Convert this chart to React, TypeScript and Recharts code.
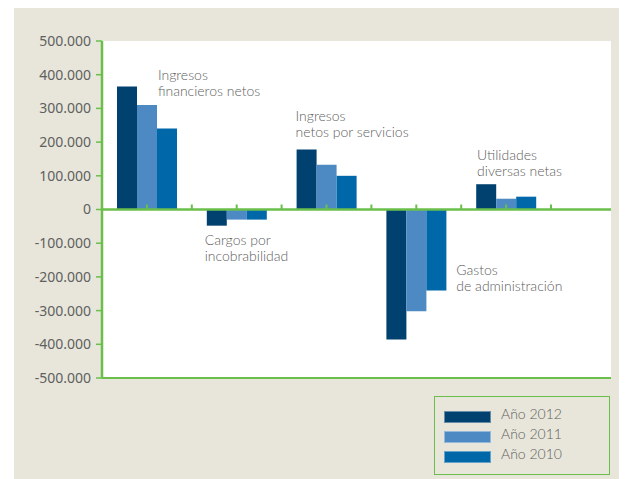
import { BarChart, Bar, XAxis, YAxis, CartesianGrid, ReferenceLine, Legend } from 'recharts'

const categories = [
  'Ingresos financieros netos',
  'Cargos por incobrabilidad',
  'Ingresos netos por servicios',
  'Gastos de administración',
  'Utilidades diversas netas',
]
const categoryLines = [
  ['Ingresos', 'financieros netos'],
  ['Cargos por', 'incobrabilidad'],
  ['Ingresos', 'netos por servicios'],
  ['Gastos', 'de administración'],
  ['Utilidades', 'diversas netas'],
]
const year2012 = [365000, -48000, 178000, -386000, 75000]
const year2011 = [310000, -30000, 133000, -302000, 32000]
const year2010 = [240000, -30000, 100000, -240000, 38000]
const yTicks = [-500000, -400000, -300000, -200000, -100000, 0, 100000, 200000, 300000, 400000, 500000]

const series = [
  { key: 'y2012', name: 'Año 2012', color: '#00416f' },
  { key: 'y2011', name: 'Año 2011', color: '#4d8ac4' },
  { key: 'y2010', name: 'Año 2010', color: '#0067a9' },
]

const data = categories.map((name, i) => ({
  name,
  y2012: year2012[i],
  y2011: year2011[i],
  y2010: year2010[i],
}))

// layout
const W = 613
const H = 471
const MARGIN = { top: 33, right: 16, left: 0, bottom: 100 }
const X_AXIS_H = 1
const PLOT_H = H - MARGIN.top - MARGIN.bottom - X_AXIS_H
const ZERO_Y = MARGIN.top + PLOT_H / 2
const BAND = 89.8
const GREEN = '#6abf4b'
const BG = '#e8e6da'
const TEXT = '#606060'
const LABEL_FONT = 'Lato, "Noto Sans", sans-serif'

// label offsets: [dx from band centre, baseline of first line relative to zero line]
const labelPos = [
  [11, -130],
  [-32, 35],
  [-31, -89],
  [40, 65],
  [-29, -50],
]

function fmt(v: number) {
  const s = Math.abs(v).toString().replace(/\B(?=(\d{3})+(?!\d))/g, '.')
  return v < 0 ? `-${s}` : s
}

// eslint-disable-next-line @typescript-eslint/no-explicit-any
function CategoryTick({ x, index }: any) {
  const [dx, dy] = labelPos[index]
  return (
    <g>
      <line x1={x} x2={x} y1={ZERO_Y - 5} y2={ZERO_Y} stroke={GREEN} strokeWidth={2} />
      <line x1={x + BAND / 2} x2={x + BAND / 2} y1={ZERO_Y - 5} y2={ZERO_Y} stroke={GREEN} strokeWidth={2} />
      <text x={x + dx} y={ZERO_Y + dy} fill={TEXT} fontFamily={LABEL_FONT} fontWeight={300} fontSize={14}>
        <tspan x={x + dx}>{categoryLines[index][0]}</tspan>
        <tspan x={x + dx} dy={16}>{categoryLines[index][1]}</tspan>
      </text>
    </g>
  )
}

function LegendBox() {
  return (
    <div style={{
      width: 174,
      height: 67,
      border: `1px solid ${GREEN}`,
      boxSizing: 'content-box',
      paddingTop: 10,
    }}>
      {series.map(s => (
        <div key={s.key} style={{ display: 'flex', alignItems: 'center', height: 20, marginLeft: 9 }}>
          <div style={{ width: 45, height: 10, background: s.color, border: '0.5px solid rgba(255,255,255,0.4)' }} />
          <span style={{ marginLeft: 10, fontFamily: LABEL_FONT, fontWeight: 300, fontSize: 14, color: TEXT, lineHeight: '16px', marginTop: -6 }}>
            {s.name}
          </span>
        </div>
      ))}
    </div>
  )
}

export default function App() {
  return (
    <div style={{ width: W, height: H, marginLeft: 6, background: BG, position: 'relative' }}>
      <BarChart width={W} height={H} data={data} margin={MARGIN} barSize={20} barGap={0}>
        <CartesianGrid fill="#fff" stroke="none" horizontal={false} vertical={false} />
        <XAxis
          dataKey="name"
          height={X_AXIS_H}
          padding={{ left: 0, right: 60 }}
          axisLine={{ stroke: GREEN, strokeWidth: 2 }}
          tickLine={false}
          tick={(props: any) => <CategoryTick {...props} />}
          interval={0}
        />
        <YAxis
          width={88}
          domain={[-500000, 500000]}
          ticks={yTicks}
          tickFormatter={fmt}
          axisLine={{ stroke: GREEN, strokeWidth: 2.5 }}
          tickLine={{ stroke: GREEN, strokeWidth: 1.5 }}
          tickSize={6}
          tickMargin={5}
          tick={{ fontSize: 14, fill: TEXT, fontFamily: '"Noto Sans", sans-serif' }}
          interval={0}
        />
        {series.map(s => (
          <Bar key={s.key} dataKey={s.key} name={s.name} fill={s.color} isAnimationActive={false} />
        ))}
        <ReferenceLine y={0} stroke={GREEN} strokeWidth={2.5} />
        <Legend
          layout="horizontal"
          verticalAlign="middle"
          align="center"
          content={<LegendBox />}
          wrapperStyle={{ left: 420, top: 388, width: 176, height: 79 }}
        />
      </BarChart>
    </div>
  )
}
